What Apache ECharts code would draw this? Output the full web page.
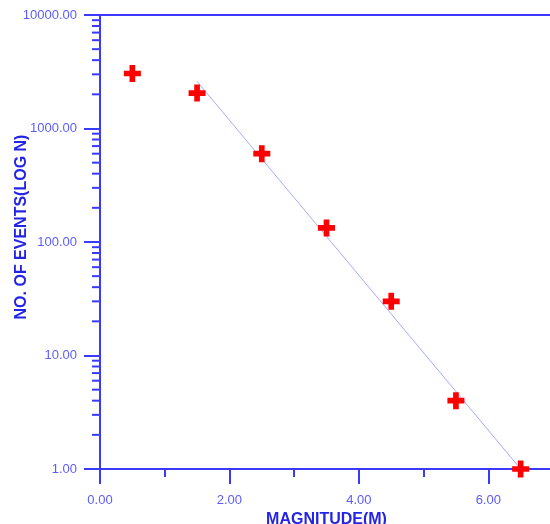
<!DOCTYPE html>
<html>
<head>
<meta charset="utf-8">
<style>
    html, body { margin: 0; padding: 0; background: #fff; }
    #main { width: 550px; height: 524px; }
</style>
<script src="https://cdn.jsdelivr.net/npm/echarts@6/dist/echarts.min.js"></script>
</head>
<body>
<div id="main"></div>
<script>
    // observed data (magnitude bins, number of events)
    var magnitudes = [0.5, 1.5, 2.5, 3.5, 4.5, 5.5, 6.5];
    var eventCounts = [3050, 2050, 600, 133, 30, 4, 1];

    // fitted Gutenberg-Richter line end points
    var fitMagnitudes = [1.5, 6.5];
    var fitCounts = [2600, 1];

    // minor ticks of the log axis
    var decades = [1, 10, 100, 1000];
    var minorSteps = [2, 3, 4, 5, 6, 7, 8, 9];

    var axisColor = '#3a3aff';
    var labelColor = '#5c5cff';
    var titleColor = '#2424e6';
    var font = 'Liberation Sans, Arial, sans-serif';

    var minorTickValues = [];
    decades.forEach(function (d) {
        minorSteps.forEach(function (s) {
            minorTickValues.push([0, d * s]);
        });
    });

    var chart = echarts.init(document.getElementById('main'));

    chart.setOption({
        animation: false,
        grid: { left: 100, top: 15, width: 453, height: 454, outerBoundsMode: 'none', containLabel: false },
        xAxis: [
            {
                type: 'value',
                min: 0,
                max: 7,
                interval: 2,
                name: 'MAGNITUDE(M)',
                nameLocation: 'middle',
                nameGap: 40,
                nameTextStyle: { color: titleColor, fontFamily: font, fontWeight: 'bold', fontSize: 16 },
                axisLine: { show: true, lineStyle: { color: axisColor, width: 2 } },
                axisTick: { show: true, length: 15, lineStyle: { color: axisColor, width: 2 } },
                minorTick: { show: true, splitNumber: 2, length: 8, lineStyle: { color: axisColor, width: 2 } },
                splitLine: { show: false },
                axisLabel: {
                    color: labelColor, fontFamily: font, fontSize: 13, margin: 25,
                    formatter: function (v) { return v <= 6 ? v.toFixed(2) : ''; }
                }
            },
            {
                type: 'value',
                position: 'top',
                min: 0,
                max: 7,
                axisLine: { show: true, lineStyle: { color: axisColor, width: 2 } },
                axisTick: { show: false },
                axisLabel: { show: false },
                splitLine: { show: false }
            }
        ],
        yAxis: {
            type: 'log',
            logBase: 10,
            min: 1,
            max: 10000,
            axisLine: { show: true, lineStyle: { color: axisColor, width: 2 } },
            axisTick: { show: true, length: 16, lineStyle: { color: axisColor, width: 2 } },
            splitLine: { show: false },
            axisLabel: {
                color: labelColor, fontFamily: font, fontSize: 13, margin: 23,
                formatter: function (v) { return v.toFixed(2); }
            }
        },
        graphic: [{
            type: 'text',
            x: 22,
            y: 227,
            rotation: Math.PI / 2,
            style: {
                text: 'NO. OF EVENTS(LOG N)',
                fill: titleColor,
                font: 'bold 16px Liberation Sans, Arial, sans-serif',
                align: 'center',
                verticalAlign: 'middle'
            }
        }],
        series: [
            {
                type: 'custom',
                data: minorTickValues,
                clip: false,
                silent: true,
                renderItem: function (params, api) {
                    var p = api.coord([api.value(0), api.value(1)]);
                    return {
                        type: 'line',
                        shape: { x1: p[0] - 8, y1: p[1], x2: p[0], y2: p[1] },
                        style: { stroke: axisColor, lineWidth: 2 }
                    };
                }
            },
            {
                type: 'line',
                data: fitMagnitudes.map(function (m, i) { return [m, fitCounts[i]]; }),
                showSymbol: false,
                symbol: 'none',
                lineStyle: { color: '#a8a8ff', width: 1 },
                z: 2
            },
            {
                type: 'scatter',
                data: magnitudes.map(function (m, i) { return [m, eventCounts[i]]; }),
                symbol: 'path://M2,0H4V2H6V4H4V6H2V4H0V2H2Z',
                symbolSize: 17,
                itemStyle: { color: '#ff0000', opacity: 1 },
                z: 3
            }
        ]
    });
</script>
</body>
</html>
